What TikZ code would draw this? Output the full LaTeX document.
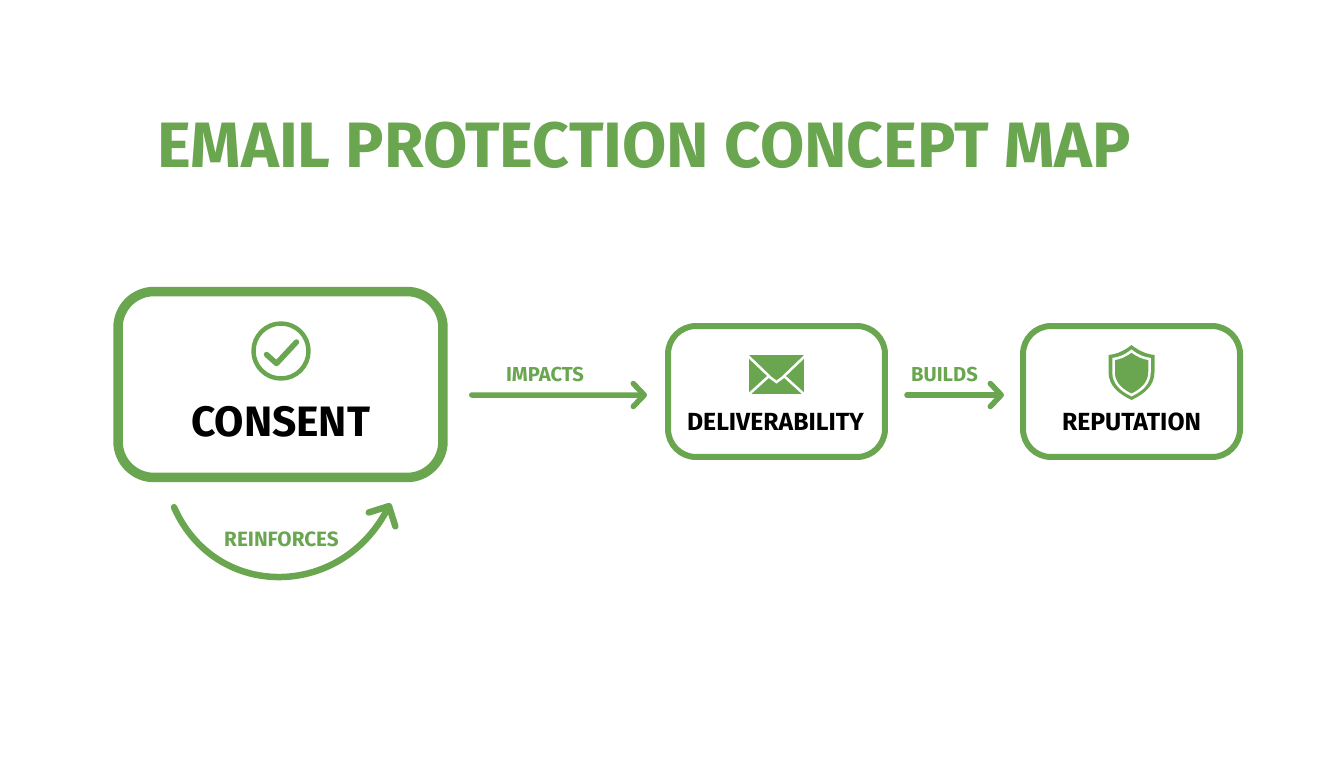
\documentclass[tikz,border=0pt]{standalone}
\usepackage{fontspec}
\setmainfont{Fira Sans}
\usetikzlibrary{arrows.meta}
\definecolor{mapgreen}{RGB}{106,166,79}
\tikzset{
  box/.style={draw=mapgreen,rounded corners=0.56cm,line width=0.12cm,minimum width=4.34cm,minimum height=2.62cm,inner sep=0pt},
  bigbox/.style={box,rounded corners=0.72cm,line width=0.19cm,minimum width=6.5cm,minimum height=3.72cm},
  flow/.style={draw=mapgreen,line width=0.11cm,line cap=round,-{Straight Barb[round,length=0.22cm,width=0.46cm,line width=0.11cm]}},
  flowlabel/.style={text=mapgreen,font=\bfseries\fontsize{11.5}{13}\selectfont,inner sep=0pt},
  boxlabel/.style={text=black,font=\bfseries\fontsize{14.1}{16}\selectfont,inner sep=0pt},
  icon/.style={mapgreen,line cap=round,line join=round}
}
\begin{document}
\begin{tikzpicture}[x=0.02cm,y=0.02cm]
\useasboundingbox (0,0) rectangle (1344,-768);
\node (title) at (644,-145) [text=mapgreen,font=\bfseries\fontsize{36.5}{42}\selectfont,inner sep=0pt] {EMAIL PROTECTION CONCEPT MAP};
\node [bigbox] (consent) at (280.5,-384.5) {};
\node [box] (deliverability) at (776.5,-391.5) {};
\node [box] (reputation) at (1131.5,-391.5) {};
\node [boxlabel,font=\bfseries\fontsize{24.2}{28}\selectfont] (consenttext) at (280.5,-422) {CONSENT};
\node [boxlabel] (deliverabilitytext) at (775.5,-422) {DELIVERABILITY};
\node [boxlabel] (reputationtext) at (1131.5,-422) {REPUTATION};
\draw [flow] ([xshift=0.48cm,yshift=-0.21cm]consent.east) -- ([xshift=-0.36cm,yshift=-0.07cm]deliverability.west);
\draw [flow] ([xshift=0.38cm,yshift=-0.07cm]deliverability.east) -- ([xshift=-0.32cm,yshift=-0.07cm]reputation.west);
\draw [flow,line width=0.13cm,-{Straight Barb[round,length=0.3cm,width=0.6cm,line width=0.13cm]}] ([xshift=-2.13cm,yshift=-0.5cm]consent.south) .. controls (215,-600) and (340,-600) .. ([xshift=2.2cm,yshift=-0.42cm]consent.south);
\node [flowlabel] (impacts) at (545,-374) {IMPACTS};
\node [flowlabel] (builds) at (944.5,-374) {BUILDS};
\node [flowlabel,font=\bfseries\fontsize{11.8}{13}\selectfont] (reinforces) at (281.5,-539) {REINFORCES};
\draw [icon,line width=0.09cm] (281,-351) circle (27.5);
\draw [icon,line width=0.11cm] (266.5,-354.5) -- (276.5,-363.5) -- (296.5,-342);
\fill [mapgreen] (749,-355) rectangle (804,-394);
\draw [white,line width=0.05cm] (747,-355) -- (771,-378) -- (776.5,-382) -- (782,-378) -- (806,-355);
\draw [white,line width=0.05cm] (747,-396) -- (769,-376);
\draw [white,line width=0.05cm] (806,-396) -- (784,-376);
\fill [mapgreen] (1131.5,-345) .. controls (1124,-351) and (1117,-354) .. (1108.5,-355) -- (1108.5,-372) .. controls (1108.5,-386) and (1119,-394) .. (1131.5,-400) .. controls (1144,-394) and (1154.5,-386) .. (1154.5,-372) -- (1154.5,-355) .. controls (1146,-354) and (1139,-351) .. (1131.5,-345) -- cycle;
\draw [white,line width=0.05cm] (1131.5,-351) .. controls (1125,-356) and (1120,-358) .. (1113.5,-359) -- (1113.5,-372) .. controls (1113.5,-383) and (1121,-390) .. (1131.5,-395) .. controls (1142,-390) and (1149.5,-383) .. (1149.5,-372) -- (1149.5,-359) .. controls (1143,-358) and (1138,-356) .. (1131.5,-351) -- cycle;
\end{tikzpicture}
\end{document}
